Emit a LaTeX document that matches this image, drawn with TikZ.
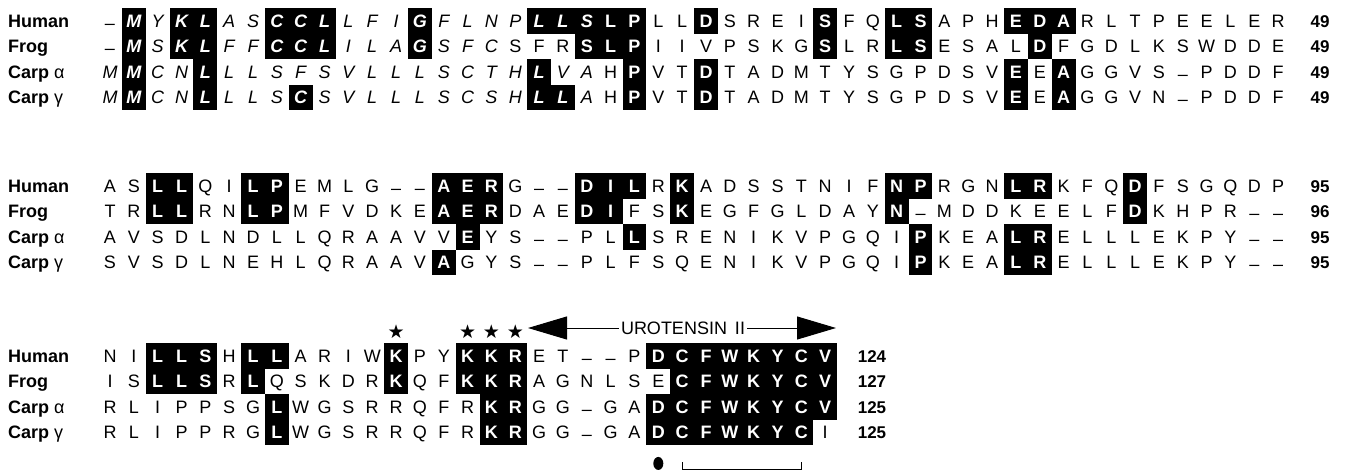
\documentclass[tikz,border=0pt]{standalone}
\usepackage{fontspec}
\setmainfont{Liberation Sans}
\newfontfamily\symfont{DejaVu Sans}
\usepackage{tikz}
\usetikzlibrary{arrows.meta, positioning, calc}

\newcommand\seqfont{\fontsize{18}{18}\selectfont}
\def\gapmark{-}

\tikzset{
  cell/.style={minimum width=23.84pt, minimum height=25.5pt, inner sep=0pt, text height=12.9pt, text depth=0pt},
  hlcell/.style={cell, fill=black, text=white},
  cellkind/.code={\expandafter\pgfkeysalso\expandafter{#1}},
  rowlab/.style={anchor=west, inner sep=0pt, text height=12.9pt, text depth=0pt, font=\fontsize{18}{18}\selectfont\bfseries},
  numlab/.style={inner sep=0pt, text height=12.9pt, text depth=0pt, font=\fontsize{17}{17}\selectfont\bfseries},
  starmark/.style={inner sep=0pt, font=\symfont\fontsize{19}{19}\selectfont},
  urolab/.style={inner sep=2pt, font=\fontsize{18}{18}\selectfont},
  uroarrow/.style={line width=1pt, -{Triangle[length=39pt, width=23pt]}},
}

% one row of the alignment: name, y, italic from, italic to, shaded columns, residues
\makeatletter
\newcommand\alrow[6]{%
  \foreach \res [count=\idx] in {#6} {%
    \edef\tmp{\noexpand\in@{,\idx,}{,#5,}}\tmp
    \ifin@ \def\kind{hlcell}\def\wt{\bfseries}\else\def\kind{cell}\def\wt{}\fi
    \def\sh{}%
    \ifnum\idx<#3 \else\ifnum\idx>#4 \else\def\sh{\itshape}\fi\fi
    \ifx\res\gapmark\def\txt{\raisebox{-2pt}{–}}\else\let\txt\res\fi
    \node[cellkind=\kind, font=\seqfont\sh\wt] (#1-\idx) at ({110+(\idx-1)*23.84}, #2) {\txt};
  }%
}
\makeatother

\begin{document}
\begin{tikzpicture}[x=1pt, y=1pt]
  \path[use as bounding box] (0,0) rectangle (1346,-473);

  % block 1
  \node[rowlab] (labhumA) at (8,-21) {Human};
  \alrow{humA}{-21}{2}{21}{2,4,5,8,9,10,14,19,20,21,22,23,26,31,34,35,39,40,41}
    {-,M,Y,K,L,A,S,C,C,L,L,F,I,G,F,L,N,P,L,L,S,L,P,L,L,D,S,R,E,I,S,F,Q,L,S,A,P,H,E,D,A,R,L,T,P,E,E,L,E,R}
  \node[numlab] (numhumA) at (1320,-21) {49};

  \node[rowlab] (labfrgA) at (8,-46.5) {Frog};
  \alrow{frgA}{-46.5}{2}{17}{2,4,5,8,9,10,14,21,22,23,31,34,35,40}
    {-,M,S,K,L,F,F,C,C,L,I,L,A,G,S,F,C,S,F,R,S,L,P,I,I,V,P,S,K,G,S,L,R,L,S,E,S,A,L,D,F,G,D,L,K,S,W,D,D,E}
  \node[numlab] (numfrgA) at (1320,-46.5) {49};

  \node[rowlab] (labcpaA) at (8,-72) {Carp {\mdseries α}};
  \alrow{cpaA}{-72}{1}{21}{2,5,19,23,26,39,41}
    {M,M,C,N,L,L,L,S,F,S,V,L,L,L,S,C,T,H,L,V,A,H,P,V,T,D,T,A,D,M,T,Y,S,G,P,D,S,V,E,E,A,G,G,V,S,-,P,D,D,F}
  \node[numlab] (numcpaA) at (1320,-72) {49};

  \node[rowlab] (labcpgA) at (8,-97.5) {Carp {\mdseries γ}};
  \alrow{cpgA}{-97.5}{1}{21}{2,5,9,19,20,23,26,39,41}
    {M,M,C,N,L,L,L,S,C,S,V,L,L,L,S,C,S,H,L,L,A,H,P,V,T,D,T,A,D,M,T,Y,S,G,P,D,S,V,E,E,A,G,G,V,N,-,P,D,D,F}
  \node[numlab] (numcpgA) at (1320,-97.5) {49};

  % block 2
  \node[rowlab] (labhumB) at (8,-186) {Human};
  \alrow{humB}{-186}{1}{0}{3,4,7,8,15,16,17,21,22,23,25,34,35,39,40,44}
    {A,S,L,L,Q,I,L,P,E,M,L,G,-,-,A,E,R,G,-,-,D,I,L,R,K,A,D,S,S,T,N,I,F,N,P,R,G,N,L,R,K,F,Q,D,F,S,G,Q,D,P}
  \node[numlab] (numhumB) at (1320,-186) {95};

  \node[rowlab] (labfrgB) at (8,-211.5) {Frog};
  \alrow{frgB}{-211.5}{1}{0}{3,4,7,8,15,16,17,21,22,25,34,44}
    {T,R,L,L,R,N,L,P,M,F,V,D,K,E,A,E,R,D,A,E,D,I,F,S,K,E,G,F,G,L,D,A,Y,N,-,M,D,D,K,E,E,L,F,D,K,H,P,R,-,-}
  \node[numlab] (numfrgB) at (1320,-211.5) {96};

  \node[rowlab] (labcpaB) at (8,-237) {Carp {\mdseries α}};
  \alrow{cpaB}{-237}{1}{0}{16,23,35,39,40}
    {A,V,S,D,L,N,D,L,L,Q,R,A,A,V,V,E,Y,S,-,-,P,L,L,S,R,E,N,I,K,V,P,G,Q,I,P,K,E,A,L,R,E,L,L,L,E,K,P,Y,-,-}
  \node[numlab] (numcpaB) at (1320,-237) {95};

  \node[rowlab] (labcpgB) at (8,-262.5) {Carp {\mdseries γ}};
  \alrow{cpgB}{-262.5}{1}{0}{15,35,39,40}
    {S,V,S,D,L,N,E,H,L,Q,R,A,A,V,A,G,Y,S,-,-,P,L,F,S,Q,E,N,I,K,V,P,G,Q,I,P,K,E,A,L,R,E,L,L,L,E,K,P,Y,-,-}
  \node[numlab] (numcpgB) at (1320,-262.5) {95};

  % block 3
  \node[rowlab] (labhumC) at (8,-356) {Human};
  \alrow{humC}{-356}{1}{0}{3,4,5,7,8,13,16,17,18,24,25,26,27,28,29,30,31}
    {N,I,L,L,S,H,L,L,A,R,I,W,K,P,Y,K,K,R,E,T,-,-,P,D,C,F,W,K,Y,C,V}
  \node[numlab] (numhumC) at (872,-356) {124};

  \node[rowlab] (labfrgC) at (8,-381.5) {Frog};
  \alrow{frgC}{-381.5}{1}{0}{3,4,5,7,13,16,17,18,25,26,27,28,29,30,31}
    {I,S,L,L,S,R,L,Q,S,K,D,R,K,Q,F,K,K,R,A,G,N,L,S,E,C,F,W,K,Y,C,V}
  \node[numlab] (numfrgC) at (872,-381.5) {127};

  \node[rowlab] (labcpaC) at (8,-407) {Carp {\mdseries α}};
  \alrow{cpaC}{-407}{1}{0}{8,17,18,24,25,26,27,28,29,30,31}
    {R,L,I,P,P,S,G,L,W,G,S,R,R,Q,F,R,K,R,G,G,-,G,A,D,C,F,W,K,Y,C,V}
  \node[numlab] (numcpaC) at (872,-407) {125};

  \node[rowlab] (labcpgC) at (8,-432.5) {Carp {\mdseries γ}};
  \alrow{cpgC}{-432.5}{1}{0}{8,17,18,24,25,26,27,28,29,30}
    {R,L,I,P,P,R,G,L,W,G,S,R,R,Q,F,R,K,R,G,G,-,G,A,D,C,F,W,K,Y,C,I}
  \node[numlab] (numcpgC) at (872,-432.5) {125};

  % stars, mature peptide, cysteine bridge
  \foreach \c in {13,16,17,18}
    \node[starmark] (star\c) at ([yshift=24pt]humC-\c.center) {★};

  \node[urolab] (uro) at (683,-328) {UROTENSIN\hspace{3pt} II};
  \coordinate (uroL) at (528,-328);
  \coordinate (uroR) at (836,-328);
  \draw[uroarrow] (uro.west) -- (uroL);
  \draw[uroarrow] (uro.east) -- (uroR);

  \fill ([yshift=-18pt]cpgC-24.south) ellipse [x radius=5pt, y radius=6.5pt];
  \draw[line width=1pt] ([yshift=-17pt]cpgC-25.south) -- ([yshift=-24pt]cpgC-25.south)
    -- ([yshift=-24pt]cpgC-30.south) -- ([yshift=-17pt]cpgC-30.south);
\end{tikzpicture}
\end{document}
